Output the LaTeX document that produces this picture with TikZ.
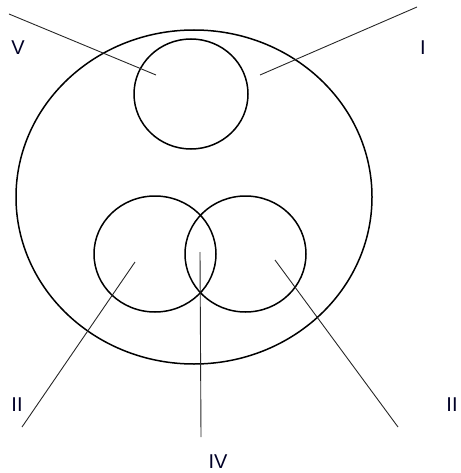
\documentclass[tikz,border=0pt]{standalone}
\usepackage{fontspec}
\setmainfont{Liberation Sans}
\begin{document}
\begin{tikzpicture}[x=1pt,y=-1pt,
  set/.style={line width=1.5pt,black},
  leader/.style={line width=0.9pt,black!85},
  lab/.style={font=\fontsize{20}{24}\selectfont,text=black!85!blue,inner sep=0pt,anchor=center}]
\useasboundingbox (0,0) rectangle (460,473);
% sets
\draw[set] (194,197) ellipse [x radius=178, y radius=167];
\draw[set] (191,94) ellipse [x radius=57, y radius=55];
\draw[set] (155,254) ellipse [x radius=61, y radius=58];
\draw[set] (245.5,254) ellipse [x radius=60.5, y radius=58];
% labels
\node[lab] (lV) at (18,48) {V};
\node[lab] (lI) at (423,48) {I};
\node[lab] (lII) at (17,405) {II};
\node[lab] (lIV) at (218,462) {IV};
\node[lab] (lIII) at (452,405) {II};
% leader end points
\coordinate (v1) at (9,14);   \coordinate (v2) at (156,75);
\coordinate (i1) at (417,7);  \coordinate (i2) at (260,75);
\coordinate (a1) at (135,262); \coordinate (a2) at (22,427);
\coordinate (b1) at (200,252); \coordinate (b2) at (201,437);
\coordinate (c1) at (275,260); \coordinate (c2) at (398,427);
\draw[leader] (v1) -- (v2);
\draw[leader] (i1) -- (i2);
\draw[leader] (a1) -- (a2);
\draw[leader] (b1) -- (b2);
\draw[leader] (c1) -- (c2);
\end{tikzpicture}
\end{document}
